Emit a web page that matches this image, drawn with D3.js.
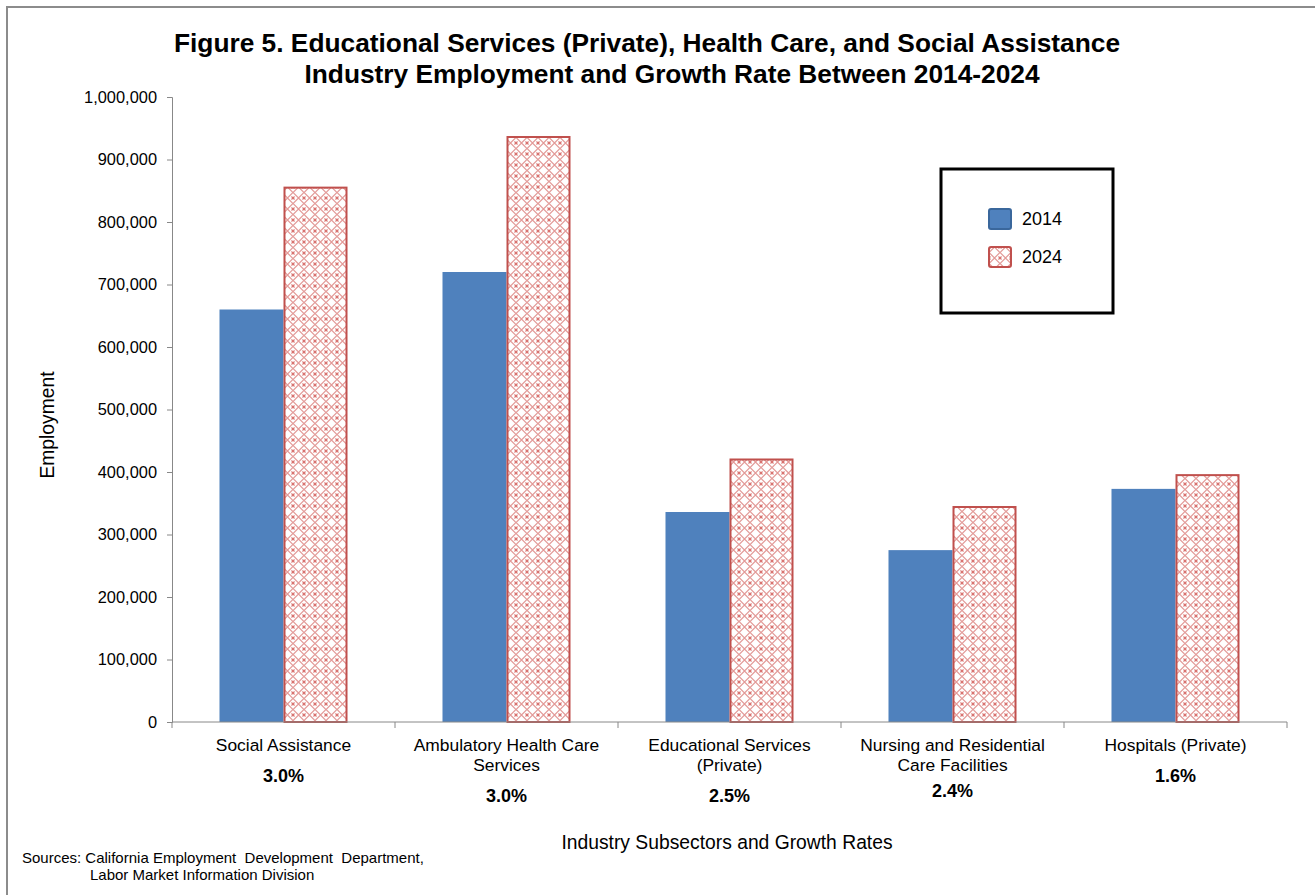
<!DOCTYPE html>
<html>
<head>
<meta charset="utf-8">
<script src="https://cdn.jsdelivr.net/npm/d3@7"></script>
<style>
  body { margin: 0; background: #fff; }
  svg { display: block; font-family: Arial, "Liberation Sans", sans-serif; }
</style>
</head>
<body>
<div id="chart"></div>
<script>
// Figure 5: employment by subsector, 2014 vs 2024
const categories = [
  ["Social Assistance"],
  ["Ambulatory Health Care", "Services"],
  ["Educational Services", "(Private)"],
  ["Nursing and Residential", "Care Facilities"],
  ["Hospitals (Private)"]
]
const growthRates = ["3.0%", "3.0%", "2.5%", "2.4%", "1.6%"]
const years = ["2014", "2024"]
const employment2014 = [660000, 720000, 336000, 275000, 373000]
const employment2024 = [855000, 936000, 420000, 344000, 395000]
const yTicks = [0, 100000, 200000, 300000, 400000, 500000, 600000, 700000, 800000, 900000, 1000000]

const W = 1315, H = 895
const margin = { left: 172, right: 28, top: 97, bottom: 173 }
const blue = "#4f81bd"
const red = "#c0504d"

const svg = d3.select("#chart").append("svg").attr("width", W).attr("height", H)

// lattice pattern for the 2024 bars
const defs = svg.append("defs")
const pat = defs.append("pattern")
  .attr("id", "lattice")
  .attr("patternUnits", "userSpaceOnUse")
  .attr("width", 11).attr("height", 11)
pat.append("rect").attr("width", 11).attr("height", 11).attr("fill", "#fff")
pat.append("path")
  .attr("d", "M0,5.5 L5.5,0 L11,5.5 L5.5,11 Z")
  .attr("fill", "none").attr("stroke", "#e39a98").attr("stroke-width", 1.2)
pat.append("path")
  .attr("d", "M0,0 L1.5,1.5 M11,0 L9.5,1.5 M0,11 L1.5,9.5 M11,11 L9.5,9.5")
  .attr("stroke", "#d86e6b").attr("stroke-width", 1.2)

// outer frame (only top and left are inside the picture)
svg.append("rect")
  .attr("x", 7).attr("y", 7).attr("width", W + 20).attr("height", H + 20)
  .attr("fill", "none").attr("stroke", "#8c8c8c").attr("stroke-width", 2)

const x = d3.scaleBand()
  .domain(d3.range(categories.length))
  .range([margin.left, W - margin.right])
  .padding(0)

const xInner = d3.scaleBand()
  .domain(years)
  .range([0, x.bandwidth()])
  .paddingInner(0)
  .paddingOuter(0.742)

const y = d3.scaleLinear()
  .domain([0, 1000000])
  .range([H - margin.bottom, margin.top])

// bars
const groups = svg.append("g").selectAll("g")
  .data(categories.map((c, i) => ({ i, values: [employment2014[i], employment2024[i]] })))
  .join("g")
  .attr("transform", d => `translate(${x(d.i)},0)`)

groups.selectAll("rect")
  .data(d => d.values.map((v, k) => ({ year: years[k], v })))
  .join("rect")
  .attr("x", d => xInner(d.year) + (d.year === "2024" ? 1 : 0))
  .attr("width", d => xInner.bandwidth() - (d.year === "2024" ? 2 : 0))
  .attr("y", d => y(d.v))
  .attr("height", d => y(0) - y(d.v))
  .attr("fill", d => d.year === "2014" ? blue : "url(#lattice)")
  .attr("stroke", d => d.year === "2014" ? "none" : red)
  .attr("stroke-width", 2)

// y axis
const yAxis = svg.append("g")
  .attr("transform", `translate(${margin.left},0)`)
  .call(d3.axisLeft(y).tickValues(yTicks).tickFormat(d3.format(",")).tickSize(5).tickPadding(10))
yAxis.selectAll("path, line").attr("stroke", "#888")
yAxis.selectAll("text").attr("font-size", 16.4).attr("fill", "#000").attr("font-family", "Arial, 'Liberation Sans', sans-serif")

// x axis
const xAxis = svg.append("g").attr("transform", `translate(0,${y(0)})`)
xAxis.append("line")
  .attr("x1", margin.left).attr("x2", W - margin.right)
  .attr("stroke", "#888")
xAxis.selectAll(".bt")
  .data(d3.range(categories.length + 1))
  .join("line")
  .attr("x1", i => i < categories.length ? x(i) : x(i - 1) + x.bandwidth())
  .attr("x2", i => i < categories.length ? x(i) : x(i - 1) + x.bandwidth())
  .attr("y1", 0).attr("y2", 6)
  .attr("stroke", "#888")

const labels = svg.append("g").selectAll("g")
  .data(categories.map((c, i) => ({ lines: c, i })))
  .join("g")
  .attr("transform", d => `translate(${x(d.i) + x.bandwidth() / 2},0)`)
labels.each(function (d) {
  const g = d3.select(this)
  d.lines.forEach((t, k) => {
    g.append("text")
      .attr("y", 750.5 + k * 20)
      .attr("text-anchor", "middle")
      .attr("font-size", 17.4)
      .text(t)
  })
  g.append("text")
    .attr("y", d.lines.length > 1 ? (d.i === 3 ? 797 : 802) : 782)
    .attr("text-anchor", "middle")
    .attr("font-size", 18)
    .attr("font-weight", "bold")
    .text(growthRates[d.i])
})

// titles
const title = svg.append("g").attr("font-weight", "bold").attr("font-size", 26.3).attr("text-anchor", "middle")
title.append("text").attr("x", 647).attr("y", 51.5).text("Figure 5. Educational Services (Private), Health Care, and Social Assistance")
title.append("text").attr("x", 672).attr("y", 82.5).text("Industry Employment and Growth Rate Between 2014-2024")

svg.append("text")
  .attr("x", 727).attr("y", 849)
  .attr("text-anchor", "middle").attr("font-size", 19.3)
  .text("Industry Subsectors and Growth Rates")

svg.append("text")
  .attr("transform", "translate(54,425) rotate(-90)")
  .attr("text-anchor", "middle").attr("font-size", 19.3)
  .text("Employment")

// sources
svg.append("text").attr("x", 22).attr("y", 863).attr("font-size", 15)
  .style("white-space", "pre")
  .text("Sources: California Employment  Development  Department,")
svg.append("text").attr("x", 90).attr("y", 880).attr("font-size", 15)
  .text("Labor Market Information Division")

// legend
const legend = svg.append("g")
legend.append("rect")
  .attr("x", 941).attr("y", 169).attr("width", 172).attr("height", 144)
  .attr("fill", "#fff").attr("stroke", "#000").attr("stroke-width", 3)
const legItems = legend.selectAll("g.item")
  .data(years)
  .join("g")
  .attr("transform", (d, i) => `translate(989,${209 + i * 38})`)
legItems.append("rect")
  .attr("width", 22).attr("height", 20).attr("rx", 2)
  .attr("fill", d => d === "2014" ? blue : "url(#lattice)")
  .attr("stroke", d => d === "2014" ? "#3a679c" : red)
  .attr("stroke-width", 2)
legItems.append("text")
  .attr("x", 33).attr("y", 16).attr("font-size", 18)
  .text(d => d)
</script>
</body>
</html>
